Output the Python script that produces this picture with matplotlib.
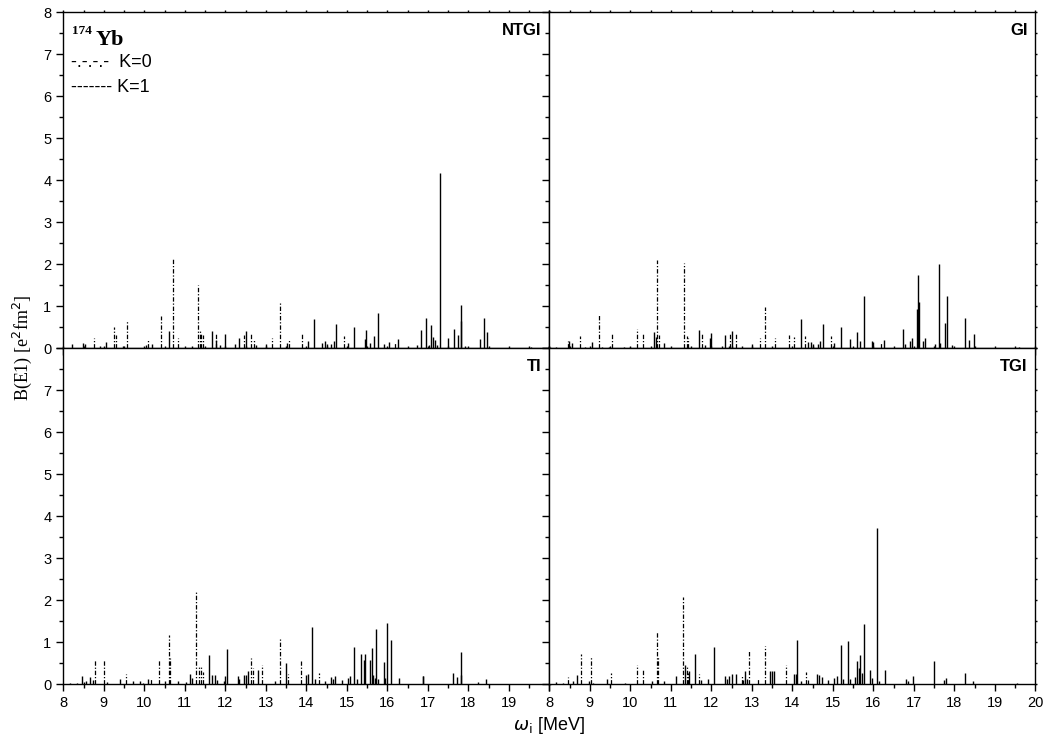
import matplotlib
matplotlib.use("Agg")
import matplotlib.pyplot as plt
from matplotlib.ticker import MultipleLocator

# ---------------- data ----------------
panel_names = ["NTGI", "GI", "TI", "TGI"]

ntgi_k0_e = [8.76, 9.25, 9.29, 9.58, 10.10, 10.42, 10.72, 10.82, 11.33, 11.38, 11.41, 11.44,
             11.76, 12.47, 12.64, 12.70, 13.16, 13.34, 13.57, 13.90, 14.94, 16.18]
ntgi_k0_b = [0.25, 0.49, 0.31, 0.65, 0.19, 0.76, 2.13, 0.23, 1.51, 0.40, 0.35, 0.30,
             0.35, 0.31, 0.33, 0.20, 0.25, 1.09, 0.18, 0.36, 0.29, 0.15]
ntgi_k1_e = [8.21, 8.48, 8.54, 8.90, 9.05, 9.48, 10.05, 10.19, 10.61, 11.17, 11.68, 11.78,
             11.87, 12.00, 12.25, 12.35, 12.50, 12.75, 13.00, 13.52, 14.04, 14.18, 14.38,
             14.45, 14.50, 14.62, 14.69, 14.73, 15.02, 15.18, 15.45, 15.48, 15.58, 15.66,
             15.78, 15.93, 16.04, 16.26, 16.74, 16.84, 16.95, 17.04, 17.09, 17.12, 17.18,
             17.23, 17.29, 17.51, 17.64, 17.75, 17.81, 17.83, 17.92, 18.29, 18.40, 18.45, 19.54]
ntgi_k1_b = [0.09, 0.13, 0.10, 0.04, 0.14, 0.05, 0.06, 0.09, 0.41, 0.05, 0.40, 0.20,
             0.06, 0.33, 0.09, 0.24, 0.40, 0.07, 0.10, 0.11, 0.16, 0.70, 0.12,
             0.17, 0.10, 0.09, 0.17, 0.56, 0.11, 0.51, 0.22, 0.42, 0.13, 0.29,
             0.83, 0.09, 0.15, 0.21, 0.06, 0.43, 0.71, 0.06, 0.55, 0.27, 0.19,
             0.07, 4.17, 0.24, 0.45, 0.31, 1.02, 0.65, 0.04, 0.21, 0.71, 0.39, 0.03]

gi_k0_e = [8.45, 8.77, 9.22, 9.55, 10.16, 10.31, 10.67, 10.70, 11.33, 11.39, 11.43, 11.76,
           12.47, 12.60, 13.20, 13.33, 13.57, 13.91, 14.03, 14.32, 14.95, 16.19]
gi_k0_b = [0.17, 0.28, 0.81, 0.35, 0.45, 0.36, 2.10, 0.30, 2.02, 0.29, 0.25, 0.36,
           0.36, 0.33, 0.25, 0.98, 0.25, 0.30, 0.26, 0.29, 0.29, 0.12]
gi_k1_e = [8.16, 8.49, 8.56, 8.88, 9.05, 9.29, 9.48, 9.85, 10.00, 10.58, 10.63, 10.82,
           11.69, 11.84, 11.96, 12.00, 12.26, 12.35, 12.43, 12.52, 12.75, 13.01, 14.21,
           14.39, 14.45, 14.50, 14.64, 14.69, 14.75, 15.03, 15.20, 15.43, 15.60, 15.68,
           15.77, 15.96, 16.00, 16.27, 16.74, 16.78, 16.90, 16.95, 17.09, 17.10, 17.13,
           17.22, 17.27, 17.52, 17.61, 17.64, 17.77, 17.81, 17.95, 18.27, 18.36, 18.48, 19.60]
gi_k1_b = [0.03, 0.17, 0.11, 0.03, 0.14, 0.03, 0.02, 0.03, 0.02, 0.37, 0.27, 0.11,
           0.43, 0.07, 0.25, 0.36, 0.05, 0.30, 0.05, 0.41, 0.05, 0.09, 0.69,
           0.14, 0.14, 0.10, 0.10, 0.17, 0.57, 0.11, 0.50, 0.21, 0.38, 0.16,
           1.25, 0.16, 0.14, 0.20, 0.46, 0.10, 0.16, 0.25, 0.94, 1.75, 1.10,
           0.17, 0.24, 0.10, 2.00, 0.13, 0.60, 1.24, 0.06, 0.72, 0.20, 0.33, 0.03]

ti_k0_e = [8.78, 9.01, 9.54, 10.17, 10.37, 10.61, 10.63, 11.28, 11.34, 11.39, 11.44,
           12.63, 12.68, 12.90, 13.34, 13.55, 13.86, 14.32]
ti_k0_b = [0.56, 0.57, 0.24, 0.13, 0.57, 1.17, 0.62, 2.22, 0.43, 0.40, 0.29,
           0.63, 0.39, 0.45, 1.07, 0.25, 0.55, 0.27]
ti_k1_e = [8.16, 8.33, 8.45, 8.51, 8.57, 8.67, 8.74, 9.08, 9.41, 9.72, 9.89, 9.97, 10.10,
           10.50, 10.82, 11.03, 11.14, 11.18, 11.59, 11.68, 11.74, 11.79, 11.96, 12.00,
           12.03, 12.31, 12.35, 12.46, 12.50, 12.56, 12.81, 13.22, 13.50, 13.99, 14.05,
           14.15, 14.21, 14.45, 14.60, 14.66, 14.72, 14.88, 15.03, 15.08, 15.18, 15.24,
           15.35, 15.43, 15.46, 15.58, 15.63, 15.65, 15.69, 15.73, 15.76, 15.91, 15.94,
           15.99, 16.08, 16.28, 16.87, 16.89, 17.63, 17.73, 17.81, 17.83, 18.25, 18.44, 19.54]
ti_k1_b = [0.03, 0.03, 0.19, 0.05, 0.06, 0.16, 0.09, 0.04, 0.13, 0.07, 0.06, 0.03, 0.12,
           0.08, 0.07, 0.04, 0.24, 0.14, 0.69, 0.21, 0.21, 0.10, 0.06, 0.19,
           0.84, 0.19, 0.13, 0.21, 0.22, 0.31, 0.33, 0.06, 0.50, 0.21, 0.25,
           1.36, 0.11, 0.07, 0.17, 0.11, 0.20, 0.09, 0.14, 0.19, 0.88, 0.12,
           0.71, 0.57, 0.71, 0.57, 0.85, 0.21, 0.15, 1.30, 0.12, 0.53, 0.14,
           1.45, 1.04, 0.14, 0.20, 0.18, 0.26, 0.17, 0.76, 0.22, 0.05, 0.11, 0.01]

tgi_k0_e = [8.45, 8.78, 9.03, 9.53, 10.16, 10.31, 10.65, 10.68, 11.31, 11.39, 11.43, 11.69,
            12.76, 12.93, 13.16, 13.33, 13.84, 14.33, 14.38]
tgi_k0_b = [0.17, 0.71, 0.67, 0.27, 0.45, 0.33, 1.24, 0.67, 2.07, 0.40, 0.27, 0.23,
            0.21, 0.78, 0.14, 0.90, 0.45, 0.29, 0.10]
tgi_k1_e = [8.16, 8.35, 8.59, 8.68, 8.98, 9.09, 9.42, 9.88, 10.53, 10.82, 11.14, 11.36,
            11.45, 11.60, 11.74, 11.93, 12.07, 12.34, 12.39, 12.44, 12.51, 12.60, 12.78,
            12.84, 12.88, 13.46, 13.51, 13.56, 14.05, 14.09, 14.12, 14.22, 14.60, 14.67,
            14.74, 14.87, 15.02, 15.10, 15.20, 15.26, 15.37, 15.42, 15.55, 15.60, 15.64,
            15.66, 15.72, 15.76, 15.93, 15.96, 16.10, 16.13, 16.29, 16.81, 16.85, 16.98,
            17.51, 17.75, 17.80, 18.26, 18.47, 19.54]
tgi_k1_b = [0.04, 0.03, 0.07, 0.21, 0.07, 0.03, 0.12, 0.03, 0.08, 0.08, 0.19, 0.46,
            0.32, 0.71, 0.10, 0.11, 0.88, 0.18, 0.11, 0.19, 0.23, 0.24, 0.10,
            0.31, 0.13, 0.32, 0.30, 0.31, 0.23, 0.23, 1.04, 0.08, 0.23, 0.21,
            0.17, 0.09, 0.14, 0.19, 0.94, 0.11, 1.02, 0.11, 0.17, 0.54, 0.37,
            0.69, 0.26, 1.44, 0.33, 0.14, 3.71, 0.08, 0.33, 0.13, 0.07, 0.19,
            0.54, 0.10, 0.14, 0.27, 0.07, 0.02]

x_ticks = [8, 9, 10, 11, 12, 13, 14, 15, 16, 17, 18, 19, 20]
y_ticks = [0, 1, 2, 3, 4, 5, 6, 7, 8]

panels = [
    (ntgi_k0_e, ntgi_k0_b, ntgi_k1_e, ntgi_k1_b),
    (gi_k0_e, gi_k0_b, gi_k1_e, gi_k1_b),
    (ti_k0_e, ti_k0_b, ti_k1_e, ti_k1_b),
    (tgi_k0_e, tgi_k0_b, tgi_k1_e, tgi_k1_b),
]

# ---------------- figure ----------------
W, H = 1050, 747
fig = plt.figure(figsize=(W / 100, H / 100), dpi=100)

sans = ["Liberation Sans Narrow", "Liberation Sans", "DejaVu Sans"]
serif = ["Liberation Serif", "DejaVu Serif"]

x0, xw = 63.3, 486.0
y_top, yh = 12.0, 336.0
boxes = [
    (x0, y_top), (x0 + xw, y_top),
    (x0, y_top + yh), (x0 + xw, y_top + yh),
]

dashdot = (0, (3.5, 1.5, 1.0, 1.5))

for idx, ((px, py), name, (k0e, k0b, k1e, k1b)) in enumerate(zip(boxes, panel_names, panels)):
    ax = fig.add_axes([px / W, 1 - (py + yh) / H, xw / W, yh / H])
    ax.set_xlim(8, 20)
    ax.set_ylim(0, 8)
    ax.vlines(k1e, 0, k1b, colors="black", linewidth=1.0, zorder=3)
    ax.vlines(k0e, 0, k0b, colors="black", linewidth=0.9, linestyles=[dashdot], zorder=3)

    ax.xaxis.set_major_locator(MultipleLocator(1))
    ax.xaxis.set_minor_locator(MultipleLocator(0.5))
    ax.yaxis.set_major_locator(MultipleLocator(1))
    ax.yaxis.set_minor_locator(MultipleLocator(0.5))
    ax.tick_params(which="major", direction="out", length=5, width=1.0,
                   labelsize=10.5)
    ax.tick_params(which="minor", direction="out", length=3, width=1.0)
    ax.tick_params(which="both", top=True, right=True, labeltop=False, labelright=False)
    ax.tick_params(which="major", axis="x", top=True)
    for sp in ax.spines.values():
        sp.set_linewidth(1.0)
    # tiny outward ticks on the top and right frame
    for t in ax.xaxis.get_major_ticks() + ax.xaxis.get_minor_ticks():
        t.tick2line.set_markersize(1.5)
    for t in ax.yaxis.get_major_ticks() + ax.yaxis.get_minor_ticks():
        t.tick2line.set_markersize(1.5)

    col = idx % 2
    row = idx // 2
    if row == 0:
        ax.set_xticklabels([])
    else:
        ax.set_xticks(x_ticks)
        labs = [str(t) for t in x_ticks]
        if col == 0:
            labs[-1] = ""
        ax.set_xticklabels(labs, family=sans)
    if col == 1:
        ax.set_yticklabels([])
    else:
        ax.set_yticks(y_ticks)
        labs = [str(t) for t in y_ticks]
        if row == 1:
            labs[-1] = ""
        ax.set_yticklabels(labs, family=sans)

    ax.text(0.984, 0.945, name, transform=ax.transAxes, ha="right", va="center",
            fontsize=12, fontweight="bold", family=["Liberation Sans", "DejaVu Sans"])

    if idx == 0:
        ax.text(0.017, 0.942, "174", transform=ax.transAxes, ha="left", va="center",
                fontsize=9.5, fontweight="bold", family=serif)
        ax.text(0.067, 0.918, "Yb", transform=ax.transAxes, ha="left", va="center",
                fontsize=16, fontweight="bold", family=serif)
        ax.text(0.016, 0.851, "-.-.-.-  K=0", transform=ax.transAxes, ha="left", va="center",
                fontsize=13, family=["Liberation Sans", "DejaVu Sans"])
        ax.text(0.016, 0.774, "------- K=1", transform=ax.transAxes, ha="left", va="center",
                fontsize=13, family=["Liberation Sans", "DejaVu Sans"])

fig.text(22 / W, 1 - 348 / H, r"B(E1) [e$^2$fm$^2$]", rotation=90, ha="center", va="center",
         fontsize=13, family=serif)
fig.text(549 / W, 1 - 726 / H, r"$\omega_{\rm i}$ [MeV]", ha="center", va="center",
         fontsize=13, family=sans)

fig.savefig("out.png", dpi=100)
